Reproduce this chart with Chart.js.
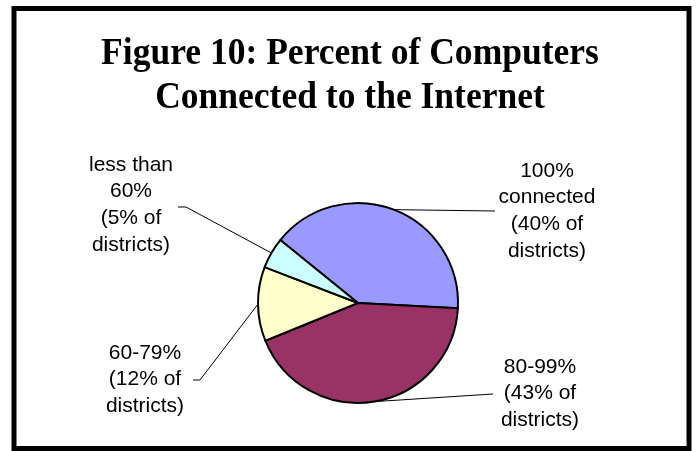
<!DOCTYPE html>
<html>
<head>
<meta charset="utf-8">
<script src="https://cdn.jsdelivr.net/npm/chart.js@4"></script>
<style>
  html, body { margin: 0; padding: 0; background: #fff; }
  #wrap { width: 697px; height: 451px; }
</style>
</head>
<body>
<div id="wrap"><canvas id="pieChart" width="697" height="451"></canvas></div>
<script>
// Figure 10 - share of districts by percent of computers connected

const categories = ['100% connected', '80-99%', '60-79%', 'less than 60%'];
const categoryLines = [['100%', 'connected'], ['80-99%'], ['60-79%'], ['less than', '60%']];
const districtShare = [40, 43, 12, 5];
const titleLines = ['Figure 10: Percent of Computers', 'Connected to the Internet'];

const sliceColors = ['#9999FF', '#993366', '#FFFFCC', '#CCFFFF'];

// where each label block sits (center x, first line y) and where its leader line starts
const labelSpots = [
    { x: 547, y: 171, lineFrom: [[495, 211]] },
    { x: 540, y: 367, lineFrom: [[493, 394]] },
    { x: 145, y: 353, lineFrom: [[193, 380], [200, 380]] },
    { x: 131, y: 165, lineFrom: [[178, 207], [186, 207]] }
];

const decorPlugin = {
    id: 'decor',
    afterDraw(chart) {
        const ctx = chart.ctx;
        ctx.save();

        // outer frame
        ctx.strokeStyle = '#000';
        ctx.lineWidth = 5;
        ctx.strokeRect(14, 8.5, 675, 440);

        // title (slightly condensed serif)
        ctx.fillStyle = '#000';
        ctx.font = 'bold 37px "Liberation Serif", "Times New Roman", serif';
        ctx.textAlign = 'center';
        ctx.textBaseline = 'alphabetic';
        [64, 108].forEach((by, k) => {
            ctx.save();
            ctx.translate(350, by);
            ctx.scale(0.96, 1);
            ctx.fillText(titleLines[k], 0, 0);
            ctx.restore();
        });

        // labels + leader lines
        const arcs = chart.getDatasetMeta(0).data;
        ctx.font = '21px "Liberation Sans", Arial, sans-serif';
        ctx.textBaseline = 'middle';
        arcs.forEach((arc, i) => {
            const spot = labelSpots[i];
            const lines = categoryLines[i].concat(['(' + districtShare[i] + '% of', 'districts)']);
            lines.forEach((t, k) => ctx.fillText(t, spot.x, spot.y + k * 26.6));

            const mid = (arc.startAngle + arc.endAngle) / 2;
            const ax = arc.x + Math.cos(mid) * arc.outerRadius;
            const ay = arc.y + Math.sin(mid) * arc.outerRadius;
            ctx.beginPath();
            ctx.lineWidth = 1;
            ctx.moveTo(spot.lineFrom[0][0], spot.lineFrom[0][1]);
            spot.lineFrom.slice(1).forEach(p => ctx.lineTo(p[0], p[1]));
            ctx.lineTo(ax, ay);
            ctx.stroke();
        });

        ctx.restore();
    }
};

new Chart(document.getElementById('pieChart'), {
    type: 'pie',
    data: {
        labels: categories,
        datasets: [{
            data: districtShare,
            backgroundColor: sliceColors,
            borderColor: '#000',
            borderWidth: 2
        }]
    },
    options: {
        responsive: false,
        animation: false,
        rotation: -51,
        radius: 100,
        layout: { padding: { left: 208, right: 189, top: 203, bottom: 48 } },
        plugins: {
            legend: { display: false },
            tooltip: { enabled: false }
        }
    },
    plugins: [decorPlugin]
});
</script>
</body>
</html>
